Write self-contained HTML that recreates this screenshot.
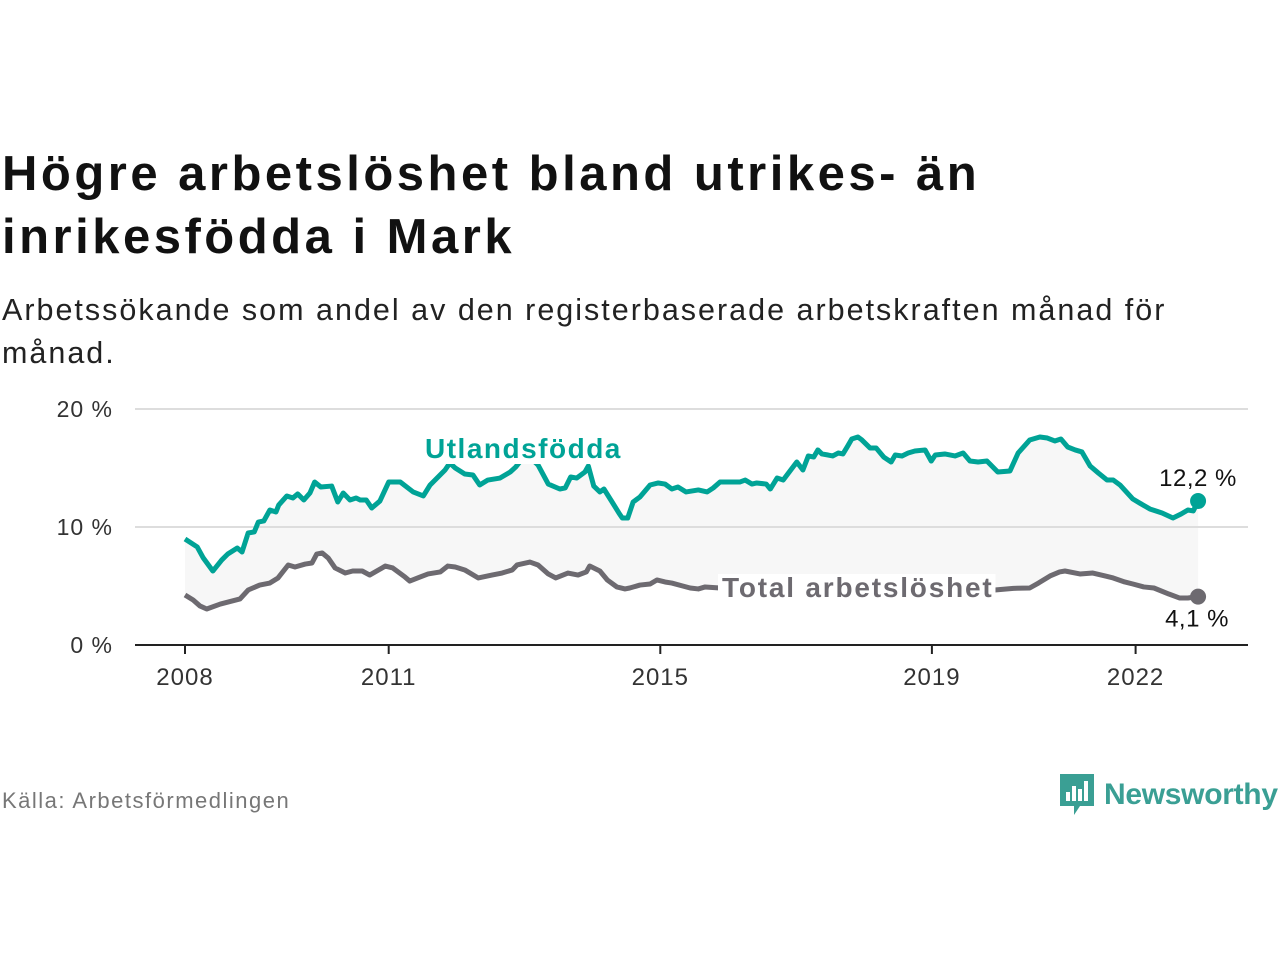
<!DOCTYPE html>
<html><head><meta charset="utf-8">
<style>
body{margin:0;background:#fff;width:1280px;height:960px;overflow:hidden;font-family:"Liberation Sans",sans-serif}
#title{position:absolute;left:2px;top:143px;font-size:49px;font-weight:bold;line-height:63px;color:#111;letter-spacing:3.5px}
#sub{position:absolute;left:2px;top:289px;font-size:30.5px;line-height:43px;color:#222;letter-spacing:2px}
#src{position:absolute;left:2px;top:788px;font-size:22px;color:#777;letter-spacing:1.5px}
#logo{position:absolute;left:1058px;top:772px;display:flex;align-items:center}
#logo span{font-size:30px;font-weight:bold;color:#3a9f94;margin-left:8px;letter-spacing:-0.3px}
svg{position:absolute;left:0;top:0}
</style></head><body>
<div id="title">Högre arbetslöshet bland utrikes- än<br>inrikesfödda i Mark</div>
<div id="sub">Arbetssökande som andel av den registerbaserade arbetskraften månad för<br>månad.</div>
<div id="src">Källa: Arbetsförmedlingen</div>
<div id="logo">
<svg style="position:static" width="38" height="46" viewBox="0 0 38 46"><path d="M2 2h34v32H22l-6 9v-9H2z" fill="#3a9f94"/><rect x="8" y="20" width="4" height="9" fill="#fff"/><rect x="14" y="14" width="4" height="15" fill="#fff"/><rect x="20" y="17" width="4" height="12" fill="#fff"/><rect x="26" y="9" width="4" height="20" fill="#fff"/></svg>
<span>Newsworthy</span></div>
<svg id="chart" width="1280" height="960"></svg>
<script>
const yTicks=[0,10,20];
const xTicks=[2008,2011,2015,2019,2022];
const fDates=[2008.00,2008.18,2008.27,2008.41,2008.54,2008.63,2008.77,2008.84,2008.93,2009.02,2009.08,2009.16,2009.25,2009.34,2009.38,2009.50,2009.59,2009.66,2009.75,2009.84,2009.91,2010.00,2010.16,2010.25,2010.33,2010.43,2010.52,2010.58,2010.67,2010.75,2010.87,2011.00,2011.17,2011.36,2011.51,2011.61,2011.83,2011.90,2011.98,2012.12,2012.24,2012.34,2012.46,2012.64,2012.79,2012.87,2012.93,2013.01,2013.12,2013.20,2013.35,2013.52,2013.60,2013.68,2013.77,2013.89,2013.94,2014.02,2014.11,2014.17,2014.29,2014.39,2014.44,2014.52,2014.60,2014.70,2014.85,2014.97,2015.07,2015.17,2015.26,2015.38,2015.56,2015.69,2015.78,2015.88,2016.17,2016.25,2016.35,2016.42,2016.56,2016.62,2016.72,2016.81,2016.91,2017.01,2017.10,2017.18,2017.26,2017.32,2017.38,2017.47,2017.54,2017.62,2017.69,2017.76,2017.82,2017.91,2017.97,2018.09,2018.18,2018.29,2018.40,2018.46,2018.56,2018.65,2018.75,2018.90,2018.99,2019.05,2019.19,2019.34,2019.46,2019.56,2019.68,2019.81,2019.97,2020.15,2020.27,2020.44,2020.59,2020.70,2020.81,2020.90,2021.00,2021.11,2021.21,2021.33,2021.45,2021.58,2021.67,2021.77,2021.96,2022.06,2022.21,2022.39,2022.55,2022.67,2022.77,2022.85,2022.92];
const fVals=[8.98,8.31,7.37,6.27,7.20,7.71,8.22,7.88,9.49,9.58,10.42,10.51,11.44,11.27,11.86,12.63,12.46,12.80,12.29,12.88,13.81,13.39,13.47,12.12,12.88,12.29,12.46,12.29,12.29,11.61,12.20,13.81,13.81,12.97,12.63,13.56,14.83,15.42,15.00,14.49,14.41,13.56,13.98,14.15,14.66,15.08,15.51,16.36,15.68,15.25,13.64,13.22,13.31,14.24,14.15,14.66,15.17,13.47,12.97,13.22,12.12,11.19,10.76,10.76,12.12,12.54,13.56,13.73,13.64,13.22,13.39,12.97,13.14,12.97,13.31,13.81,13.81,13.98,13.64,13.73,13.64,13.22,14.15,13.98,14.75,15.51,14.83,16.02,15.93,16.53,16.19,16.10,16.02,16.27,16.19,16.86,17.46,17.63,17.37,16.69,16.69,15.93,15.51,16.10,16.02,16.27,16.44,16.53,15.59,16.10,16.19,16.02,16.27,15.59,15.51,15.59,14.66,14.75,16.27,17.37,17.63,17.54,17.29,17.46,16.78,16.53,16.36,15.17,14.58,13.98,13.98,13.56,12.37,12.03,11.53,11.19,10.76,11.10,11.44,11.36,12.20];
const tDates=[2008.00,2008.12,2008.22,2008.32,2008.52,2008.81,2008.93,2009.10,2009.25,2009.37,2009.52,2009.62,2009.77,2009.87,2009.94,2010.02,2010.11,2010.21,2010.36,2010.47,2010.61,2010.72,2010.80,2010.95,2011.06,2011.24,2011.31,2011.46,2011.58,2011.76,2011.87,2011.98,2012.12,2012.32,2012.52,2012.67,2012.82,2012.89,2013.08,2013.20,2013.35,2013.46,2013.64,2013.79,2013.91,2013.96,2014.11,2014.22,2014.36,2014.48,2014.55,2014.70,2014.85,2014.95,2015.07,2015.17,2015.33,2015.44,2015.56,2015.66,2015.88,2016.3,2016.8,2017.3,2017.8,2018.3,2018.8,2019.3,2019.8,2020.2,2020.44,2020.57,2020.74,2020.88,2020.96,2021.18,2021.37,2021.55,2021.67,2021.84,2021.96,2022.12,2022.27,2022.49,2022.65,2022.77,2022.92];
const tVals=[4.24,3.81,3.31,3.05,3.47,3.90,4.66,5.08,5.25,5.68,6.78,6.61,6.86,6.95,7.71,7.80,7.37,6.53,6.10,6.27,6.27,5.93,6.19,6.69,6.53,5.76,5.42,5.76,6.02,6.19,6.69,6.61,6.36,5.68,5.93,6.10,6.36,6.78,7.03,6.78,6.02,5.68,6.10,5.93,6.19,6.69,6.27,5.51,4.92,4.75,4.83,5.08,5.17,5.51,5.34,5.25,5.00,4.83,4.75,4.92,4.83,4.9,5.0,4.9,4.8,4.8,4.9,4.7,4.6,4.8,4.83,5.25,5.85,6.19,6.27,6.02,6.10,5.85,5.68,5.34,5.17,4.92,4.83,4.32,3.98,3.98,4.10];
const NS="http://www.w3.org/2000/svg";
const svg=document.getElementById('chart');
const X=d=>185+(d-2008)*67.9;
const Y=v=>645-v*11.8;
function el(t,a,txt){const e=document.createElementNS(NS,t);for(const k in a)e.setAttribute(k,a[k]);if(txt!==undefined)e.textContent=txt;svg.appendChild(e);return e;}
let band='M'+fDates.map((d,i)=>X(d)+','+Y(fVals[i])).join('L');
for(let i=tDates.length-1;i>=0;i--)band+='L'+X(tDates[i])+','+Y(tVals[i]);
const b=el('path',{d:band+'Z',fill:'#f7f7f7'});


yTicks.forEach(v=>{
 const g=el('line',{x1:135,x2:1248,y1:Y(v),y2:Y(v),stroke:v===0?'#222':'#ddd','stroke-width':2});
 
 
 const t=el('text',{x:113,y:Y(v)+8,'text-anchor':'end','font-size':23,fill:'#333','letter-spacing':1},v+' %');
 
 
});
xTicks.forEach(d=>{
 const m=el('line',{x1:X(d),x2:X(d),y1:645,y2:654,stroke:'#222','stroke-width':2});
 
 
 const t=el('text',{x:X(d),y:685,'text-anchor':'middle','font-size':24,fill:'#333','letter-spacing':1},d);
 
 
});
function line(ds,vs,c,name){
 const p=el('path',{d:'M'+ds.map((d,i)=>X(d)+','+Y(vs[i])).join('L'),fill:'none',stroke:c,'stroke-width':5,'stroke-linejoin':'round'});
 
 
 const n=ds.length-1;
 const c2=el('circle',{cx:X(ds[n]),cy:Y(vs[n]),r:8,fill:c});
 
 
}
line(fDates,fVals,'#00a396','utlandsfodda-line');
line(tDates,tVals,'#6d6a70','total-line');
function lab(x,y,txt,c,name,ls){
 const t=el('text',{x:x,y:y,'font-size':28,'font-weight':'bold',fill:c,'letter-spacing':ls},txt);
 
 
 const bb=t.getBBox();
 const r=document.createElementNS(NS,'rect');
 r.setAttribute('x',bb.x-4);r.setAttribute('y',bb.y+2);r.setAttribute('width',bb.width+6);r.setAttribute('height',bb.height-2);r.setAttribute('fill','#fff');
 
 
 svg.insertBefore(r,t);
}
lab(425,458,'Utlandsfödda','#00a396','series-label-utlandsfodda',1.5);
lab(722,597,'Total arbetslöshet','#6d6a70','series-label-total',1.8);
const fl=fVals[fVals.length-1].toFixed(1).replace('.',',')+' %';
const tl=tVals[tVals.length-1].toFixed(1).replace('.',',')+' %';
let a=el('text',{x:1198,y:Y(fVals[fVals.length-1])-15,'font-size':24,fill:'#111','text-anchor':'middle','letter-spacing':0.5},fl);


a=el('text',{x:1197,y:Y(tVals[tVals.length-1])+30,'font-size':24,fill:'#111','text-anchor':'middle','letter-spacing':0.5},tl);


</script>
</body></html>
